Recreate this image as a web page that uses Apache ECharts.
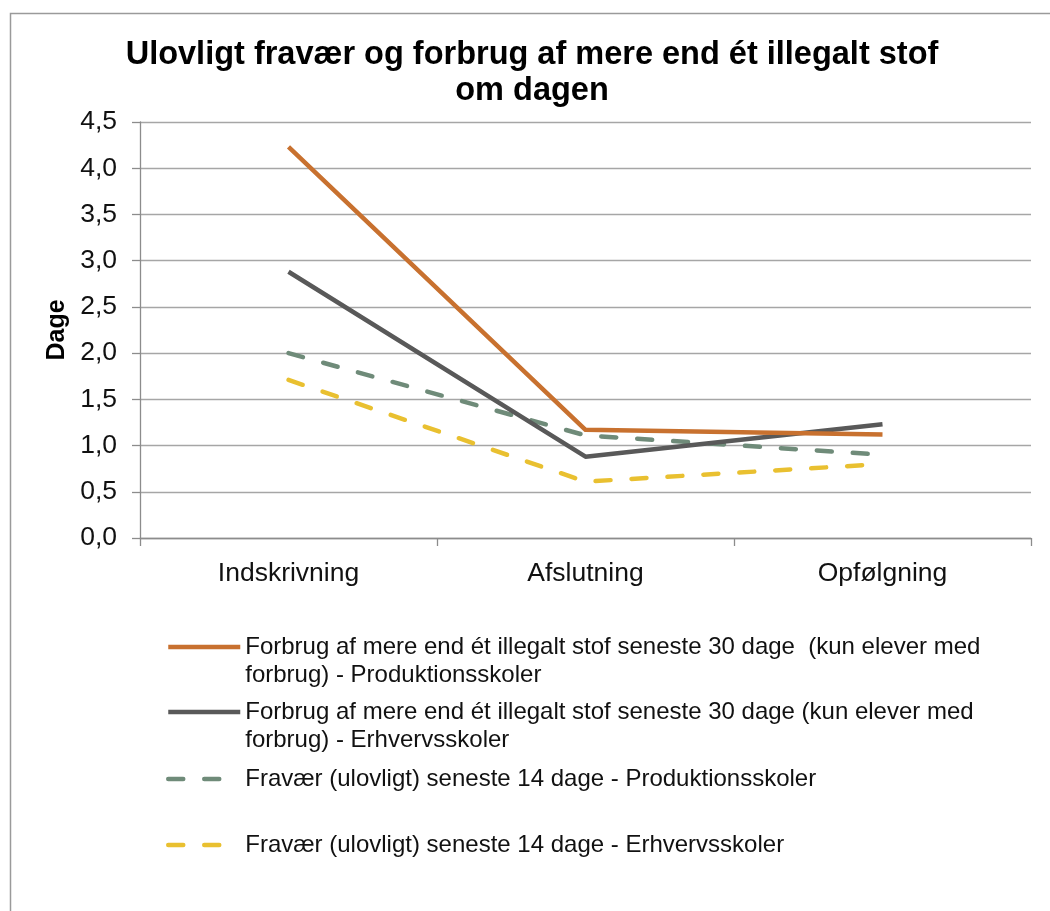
<!DOCTYPE html>
<html>
<head>
<meta charset="utf-8">
<script src="https://cdn.jsdelivr.net/npm/echarts@6/dist/echarts.min.js"></script>
<style>html,body{margin:0;padding:0;background:#fff;}#c{width:1050px;height:911px;}</style>
</head>
<body>
<div id="c"></div>
<script>
const categories = ['Indskrivning', 'Afslutning', 'Opfølgning'];
const seriesNames = [
  'Forbrug af mere end ét illegalt stof seneste 30 dage  (kun elever med forbrug) - Produktionsskoler',
  'Forbrug af mere end ét illegalt stof seneste 30 dage (kun elever med forbrug) - Erhvervsskoler',
  'Fravær (ulovligt) seneste 14 dage - Produktionsskoler',
  'Fravær (ulovligt) seneste 14 dage - Erhvervsskoler'
];
const legendLabels = [
  ' \nForbrug af mere end ét illegalt stof seneste 30 dage  (kun elever med\nforbrug) - Produktionsskoler',
  ' \nForbrug af mere end ét illegalt stof seneste 30 dage (kun elever med\nforbrug) - Erhvervsskoler',
  'Fravær (ulovligt) seneste 14 dage - Produktionsskoler',
  'Fravær (ulovligt) seneste 14 dage - Erhvervsskoler'
];
const forbrugProduktion = [4.23, 1.17, 1.12];
const forbrugErhverv = [2.88, 0.88, 1.23];
const fravaerProduktion = [2.0, 1.11, 0.90];
const fravaerErhverv = [1.71, 0.61, 0.80];
const yTicks = ['0,0','0,5','1,0','1,5','2,0','2,5','3,0','3,5','4,0','4,5'];

const colors = ['#C8712F', '#595959', '#6F8B79', '#E9C030'];
const values = [forbrugProduktion, forbrugErhverv, fravaerProduktion, fravaerErhverv];
const dashed = [false, false, true, true];
const DASH = [15, 21];
const FONT = '"Liberation Sans", Arial, sans-serif';

const chart = echarts.init(document.getElementById('c'), null, {renderer: 'canvas'});

const legendTops = [605, 670, 765, 831];
const legends = seriesNames.map((n, i) => ({
  show: true,
  orient: 'vertical',
  left: 166,
  top: legendTops[i],
  padding: 0,
  itemWidth: 72,
  itemHeight: 14,
  selectedMode: false,
  formatter: () => legendLabels[i],
  data: [n],
  itemStyle: {color: 'rgba(0,0,0,0)', borderWidth: 0, borderColor: 'rgba(0,0,0,0)', opacity: 0},
  lineStyle: {
    color: colors[i], width: 4.5,
    type: dashed[i] ? DASH : 'solid',
    cap: dashed[i] ? 'round' : 'butt',
    opacity: 1
  },
  textStyle: {fontFamily: FONT, fontSize: 24, color: '#111', lineHeight: 28}
}));

const option = {
  animation: false,
  backgroundColor: '#fff',
  title: {
    text: 'Ulovligt fravær og forbrug af mere end ét illegalt stof\nom dagen',
    left: 527,
    textAlign: 'center',
    top: 32,
    textStyle: {fontFamily: FONT, fontSize: 32.5, fontWeight: 'bold', color: '#000', lineHeight: 36}
  },
  graphic: [{
    type: 'rect', left: 8, top: 11, z: -1, silent: true,
    shape: {width: 1100, height: 1000},
    style: {fill: 'none', stroke: '#9a9a9a', lineWidth: 1.5}
  }],
  legend: legends,
  grid: {left: 140, right: 19, top: 122, bottom: 373, containLabel: false},
  xAxis: {
    type: 'category',
    data: categories,
    boundaryGap: true,
    axisLine: {show: true, lineStyle: {color: '#8c8c8c', width: 1.3}},
    axisTick: {show: true, length: 8, inside: false, alignWithLabel: false, lineStyle: {color: '#8c8c8c', width: 1.3}},
    axisLabel: {fontFamily: FONT, fontSize: 26.5, color: '#111', margin: 22},
    splitLine: {show: false}
  },
  yAxis: {
    type: 'value',
    min: 0, max: 4.5, interval: 0.5,
    name: 'Dage',
    nameLocation: 'middle',
    nameRotate: 90,
    nameGap: 65,
    nameTextStyle: {fontFamily: FONT, fontSize: 25, fontWeight: 'bold', color: '#000'},
    axisLine: {show: true, lineStyle: {color: '#8c8c8c', width: 1.3}},
    axisTick: {show: true, length: 8, lineStyle: {color: '#8c8c8c', width: 1.3}},
    axisLabel: {fontFamily: FONT, fontSize: 26.5, color: '#111', margin: 23,
      formatter: (v) => yTicks[Math.round(v * 2)]},
    splitLine: {show: true, lineStyle: {color: '#a6a6a6', width: 1.3}}
  },
  series: seriesNames.map((n, i) => ({
    name: n,
    type: 'line',
    data: values[i],
    symbol: 'none',
    smooth: false,
    lineStyle: {
      color: colors[i],
      width: 4.5,
      type: dashed[i] ? DASH : 'solid',
      cap: dashed[i] ? 'round' : 'butt',
      join: 'round'
    },
    itemStyle: {color: colors[i]},
    z: 10 - i
  }))
};
chart.setOption(option);
</script>
</body>
</html>
